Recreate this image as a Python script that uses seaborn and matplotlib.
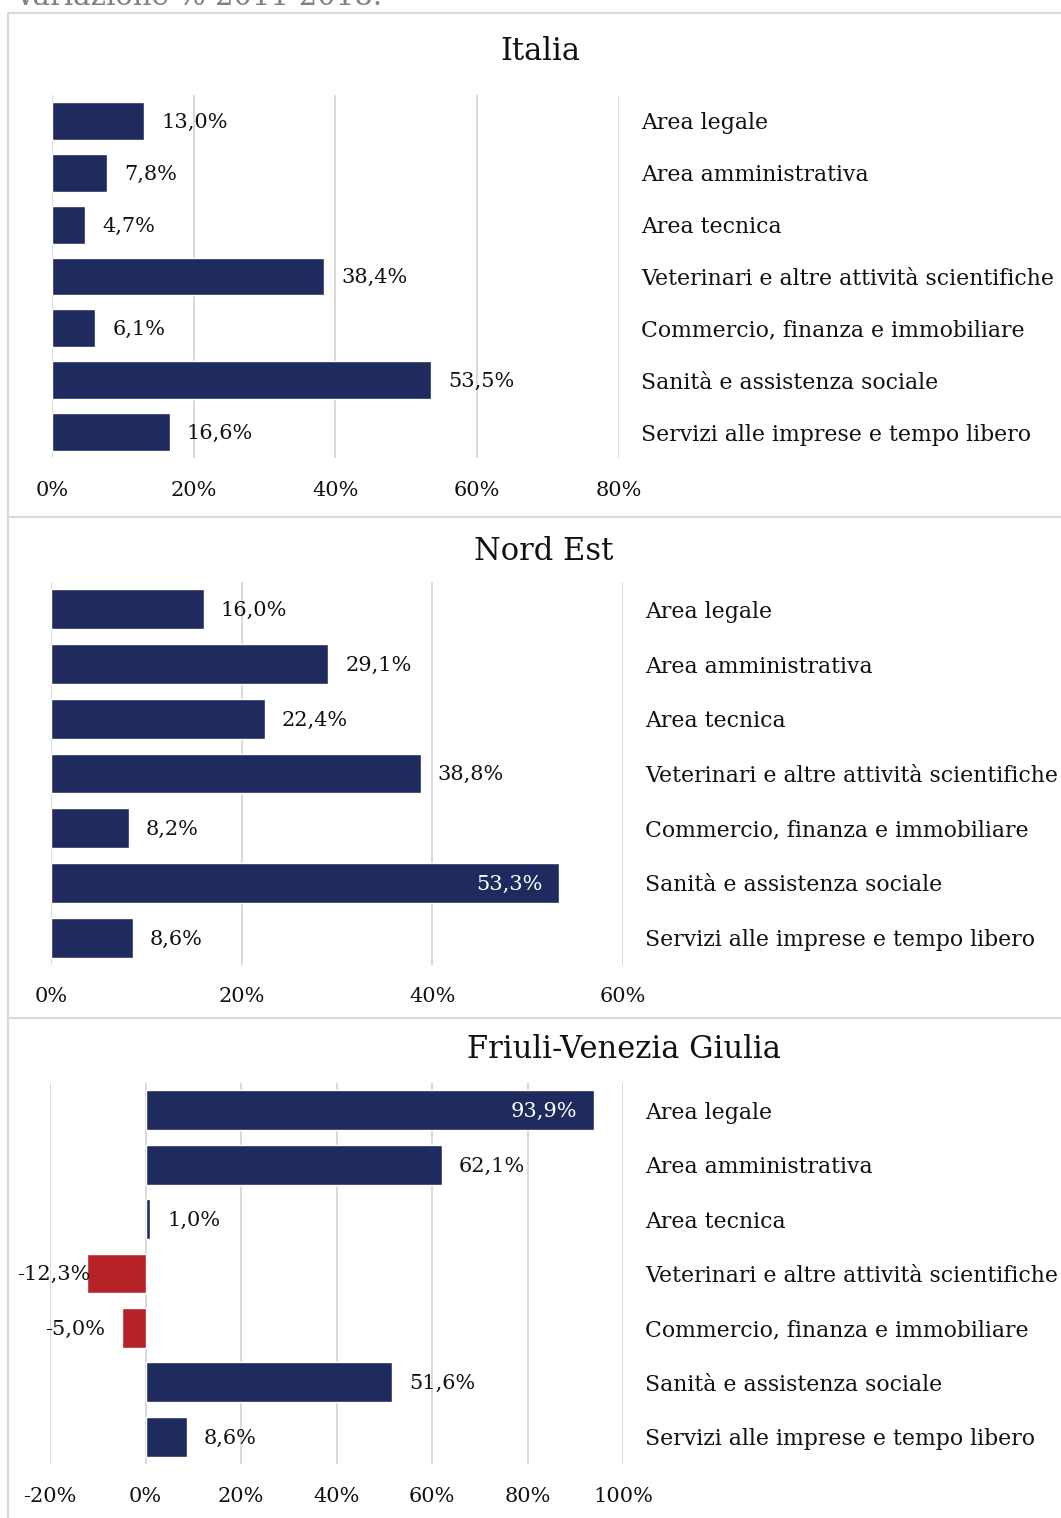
import matplotlib
matplotlib.use("Agg")
import matplotlib.pyplot as plt
import seaborn as sns
import pandas as pd

categories = ["Area legale", "Area amministrativa", "Area tecnica",
              "Veterinari e altre attività scientifiche",
              "Commercio, finanza e immobiliare",
              "Sanità e assistenza sociale",
              "Servizi alle imprese e tempo libero"]
italia = [13.0, 7.8, 4.7, 38.4, 6.1, 53.5, 16.6]
nord_est = [16.0, 29.1, 22.4, 38.8, 8.2, 53.3, 8.6]
fvg = [93.9, 62.1, 1.0, -12.3, -5.0, 51.6, 8.6]
panel_titles = ["Italia", "Nord Est", "Friuli-Venezia Giulia"]
x_ticks_italia = [0, 20, 40, 60, 80]
x_ticks_nord_est = [0, 20, 40, 60]
x_ticks_fvg = [-20, 0, 20, 40, 60, 80, 100]
header = "Variazione % 2011-2018."

NAVY = "#1F2B5E"
RED = "#B52327"
GRID = "#D9D9D9"
TXT = "#111111"
FS_CAT = 15.8
FS_NUM = 15
TFS = 22

sns.set_theme(style="white")
plt.rcParams["font.family"] = ["DejaVu Serif"]

W, H = 1061, 1518
fig = plt.figure(figsize=(W / 100, H / 100), dpi=100)


def px_axes(l, r, t, b):
    return fig.add_axes([l / W, 1 - b / H, (r - l) / W, (b - t) / H])


panels = [
    (italia, x_ticks_italia, (52, 619, 95, 458), (540, 51)),
    (nord_est, x_ticks_nord_est, (51, 623, 582, 965), (544, 551)),
    (fvg, x_ticks_fvg, (50, 623, 1083, 1464), (624, 1050)),
]

neg_labels = []
for (vals, ticks, box, tpos), title in zip(panels, panel_titles):
    ax = px_axes(*box)
    df = pd.DataFrame({"cat": categories, "val": vals,
                       "sign": ["pos" if v >= 0 else "neg" for v in vals]})
    sns.barplot(data=df, y="cat", x="val", hue="sign",
                palette={"pos": NAVY, "neg": RED}, dodge=False, width=0.73,
                legend=False, ax=ax, orient="h", saturation=1)
    lo, hi = ticks[0], ticks[-1]
    ax.set_xlim(lo, hi)
    ax.set_ylim(len(categories) - 0.5, -0.5)
    ax.set_xticks(ticks)
    ax.set_xticklabels([f"{t}%" for t in ticks], fontsize=FS_NUM, color=TXT)
    ax.grid(axis="x", color=GRID, lw=1.4)
    ax.grid(axis="y", visible=False)
    ax.set_axisbelow(True)
    for s in ax.spines.values():
        s.set_visible(False)
    ax.set_xlabel("")
    ax.set_ylabel("")
    ax.yaxis.tick_right()
    ax.tick_params(axis="both", length=0)
    ax.tick_params(axis="y", pad=15.8, labelsize=FS_CAT, labelcolor=TXT)
    ax.tick_params(axis="x", pad=16.2)
    for lbl in ax.get_yticklabels():
        lbl.set_ha("left")
    span = hi - lo
    for i, v in enumerate(vals):
        txt = f"{v:.1f}%".replace(".", ",")
        if v < 0:
            a = ax.annotate(txt, xy=(v, i), xytext=(-12.2, -1), textcoords="offset points",
                            ha="right", va="center", fontsize=FS_NUM, color=TXT)
            neg_labels.append(a)
        elif (v - lo) / span > 0.8:
            ax.annotate(txt, xy=(v, i), xytext=(-12.2, -1), textcoords="offset points",
                        ha="right", va="center", fontsize=FS_NUM, color="white")
        else:
            ax.annotate(txt, xy=(v, i), xytext=(12.2, -1), textcoords="offset points",
                        ha="left", va="center", fontsize=FS_NUM, color=TXT)
    fig.text(tpos[0] / W, 1 - tpos[1] / H, title, ha="center", va="center",
             fontsize=TFS, color=TXT)

# panel borders
for y in (12.5, 517.5, 1018):
    fig.add_artist(plt.Line2D([8 / W, 1], [1 - y / H, 1 - y / H], color=GRID, lw=1.5))
fig.add_artist(plt.Line2D([8 / W, 8 / W], [1 - 12.5 / H, 0], color=GRID, lw=1.5))

fig.text(14 / W, 1 - 5 / H, header, ha="left", va="baseline", fontsize=21, color="#808080")

# keep negative labels inside chart area
fig.canvas.draw()
r = fig.canvas.get_renderer()
for a in neg_labels:
    bb = a.get_window_extent(r)
    if bb.x0 < 17:
        dx = (17 - bb.x0) * 72 / 100
        a.xyann = (a.xyann[0] + dx, a.xyann[1])

fig.savefig("out.png", dpi=100)
